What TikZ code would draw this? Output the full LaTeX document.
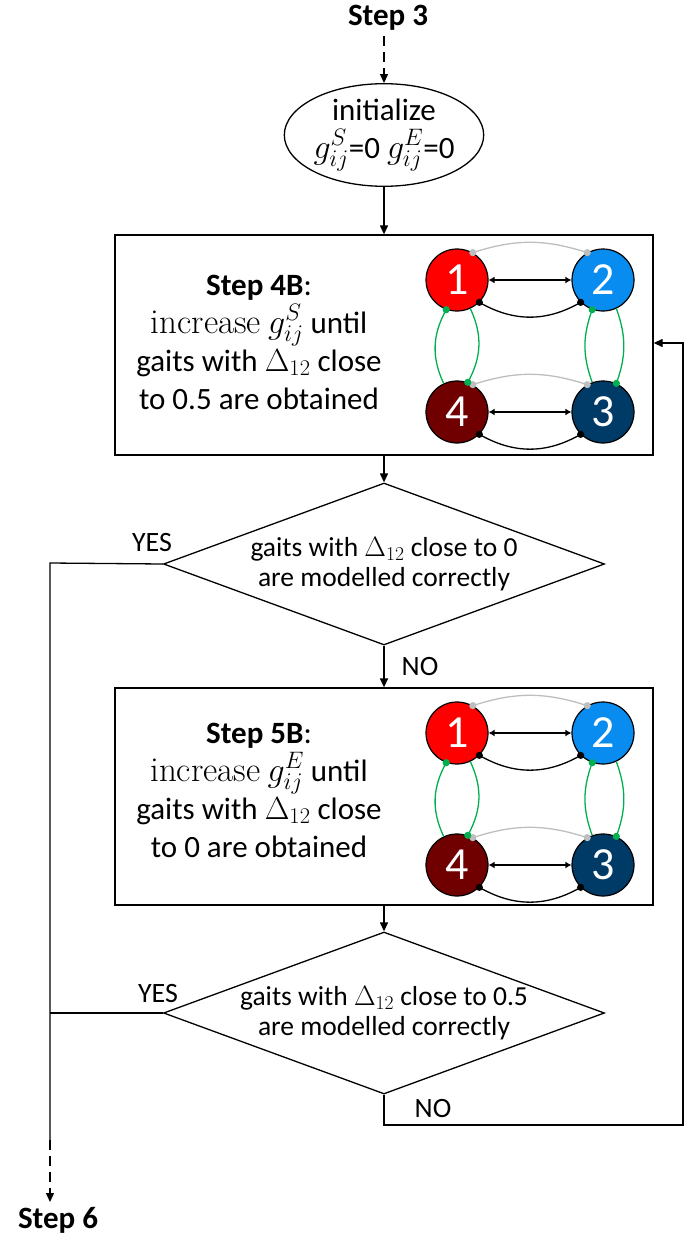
\RequirePackage{fix-cm}
\documentclass[tikz,border=0pt]{standalone}
\usepackage{fontspec}
\setmainfont{Carlito}
\newfontfamily\lmrom{Latin Modern Roman}
\usetikzlibrary{shapes.geometric,arrows.meta}
\definecolor{oscA}{RGB}{255,0,0}
\definecolor{oscB}{RGB}{8,140,240}
\definecolor{oscC}{RGB}{0,58,102}
\definecolor{oscD}{RGB}{112,0,0}
\definecolor{lgray}{RGB}{190,190,190}
\definecolor{cgreen}{RGB}{0,176,80}
\newcommand{\mth}[2]{{\fontsize{#1}{#1}\selectfont$#2$}}
\newcommand{\incr}{{\lmrom\fontsize{35}{38}\selectfont increase}}
\tikzset{
  flow/.style={line width=1.3pt,-{Triangle[length=9pt,width=8pt]}},
  plain/.style={line width=1.3pt},
  dflow/.style={line width=1.3pt,dash pattern=on 10pt off 6pt,-{Triangle[length=9pt,width=8pt]}},
  stepbox/.style={draw,line width=1.3pt,rectangle,minimum width=538pt,inner sep=0pt},
  decision/.style={draw,line width=1.3pt,diamond,aspect=2.72,inner sep=0pt,minimum width=441pt,minimum height=162pt,align=center,font=\fontsize{27.5}{30}\selectfont},
  boxtext/.style={align=center,font=\fontsize{31}{38}\selectfont},
  lbl/.style={font=\fontsize{28}{30}\selectfont},
  osc/.style={circle,draw=black,line width=1.2pt,minimum size=62pt,inner sep=0pt,text=white,font=\fontsize{46}{46}\selectfont},
  netline/.style={line width=1.3pt},
  gline/.style={line width=1.3pt,draw=lgray},
  grline/.style={line width=1.3pt,draw=cgreen},
  twotip/.style={{Latex[length=6pt,width=7pt]}-{Latex[length=6pt,width=7pt]}}
}
\newcommand{\quadnet}[2]{%
  \begin{scope}[shift={(0,#2)}]
    \node[osc,fill=oscA] (#1a) at (457,280) {1};
    \node[osc,fill=oscB] (#1b) at (603,280) {2};
    \node[osc,fill=oscD] (#1d) at (457,412) {4};
    \node[osc,fill=oscC] (#1c) at (603,412) {3};
    % top pair
    \draw[gline] (#1a.60) to[bend left=18] (#1b.120);
    \draw[netline,twotip] (#1a) -- (#1b);
    \draw[netline] (#1a.-45) to[bend right=30] (#1b.-135);
    % bottom pair
    \draw[gline] (#1d.60) to[bend left=18] (#1c.120);
    \draw[netline,twotip] (#1d) -- (#1c);
    \draw[netline] (#1d.-45) to[bend right=30] (#1c.-135);
    % green verticals
    \draw[grline] (#1a.-110) to[bend right=27] (#1d.115);
    \draw[grline] (#1a.-65) to[bend left=27] (#1d.70);
    \draw[grline] (#1b.-110) to[bend right=20] (#1c.110);
    \draw[grline] (#1b.-65) to[bend left=20] (#1c.65);
    % dots
    \fill[lgray] (#1a.60) circle (3.6pt) (#1b.120) circle (3.6pt)
                 (#1d.60) circle (3.6pt) (#1c.120) circle (3.6pt);
    \fill[black] (#1a.-45) circle (3.6pt) (#1b.-135) circle (3.6pt)
                 (#1d.-45) circle (3.6pt) (#1c.-135) circle (3.6pt);
    \fill[cgreen] (#1a.-110) circle (3.6pt) (#1d.70) circle (3.6pt)
                  (#1b.-110) circle (3.6pt) (#1c.65) circle (3.6pt);
  \end{scope}}
\begin{document}
\begin{tikzpicture}[x=1pt,y=-1pt]
\useasboundingbox (0,0) rectangle (686,1247);
% start
\node[font=\fontsize{31}{31}\selectfont\bfseries] (s3) at (388,18) {Step 3};
\node[draw,line width=1.3pt,ellipse,minimum width=197pt,minimum height=97pt,inner sep=0pt,align=center,font=\fontsize{31}{38}\selectfont] (init) at (384,135)
  {initialize\\\mth{34}{g^{S}_{ij}}=0 \mth{34}{g^{E}_{ij}}=0};
\coordinate (s3b) at (384,36);
\draw[dflow] (s3b) -- (init.north);
% box 1
\node[stepbox,minimum height=220pt] (box1) at (384,345) {};
\node[boxtext] (t1) at (259,342) {\textbf{Step 4B}:\\\incr{} \mth{34}{g^{S}_{ij}} until\\gaits with \mth{32}{\Delta_{12}} close\\to 0.5 are obtained};
\quadnet{n}{0}
\draw[flow] (init.south) -- (box1.north);
% decision 1
\node[decision] (d1) at (384,564) {gaits with \mth{28}{\Delta_{12}} close to 0\\are modelled correctly};
\draw[flow] (box1.south) -- (d1.north);
\node[lbl] (yes1) at (152,543) {YES};
% box 2
\node[stepbox,minimum height=217pt] (box2) at (384,796.5) {};
\node[boxtext] (t2) at (259,790) {\textbf{Step 5B}:\\\incr{} \mth{34}{g^{E}_{ij}} until\\gaits with \mth{32}{\Delta_{12}} close\\to 0 are obtained};
\quadnet{m}{453}
\draw[flow] (d1.south) -- (box2.north);
\node[lbl] (no1) at (420,667) {NO};
% decision 2
\node[decision] (d2) at (384,1013) {gaits with \mth{28}{\Delta_{12}} close to 0.5\\are modelled correctly};
\draw[flow] (box2.south) -- (d2.north);
\node[lbl] (yes2) at (158,993) {YES};
\node[lbl] (no2) at (433,1108) {NO};
% loop back
\coordinate (lb1) at (384,1125);
\coordinate (lb2) at (683,1125);
\coordinate (lb3) at (683,343);
\draw[flow] (d2.south) -- (lb1) -- (lb2) -- (lb3) -- (box1.east |- lb3);
% exit
\coordinate (ex1) at (50,563);
\coordinate (ex2) at (50,1013);
\coordinate (ex3) at (50,1140);
\node[font=\fontsize{31}{31}\selectfont\bfseries] (s6) at (58,1220) {Step 6};
\coordinate (s6t) at (50,1202);
\draw[plain] (d1.west) -- (ex1) -- (ex3);
\draw[plain] (d2.west) -- (ex2);
\draw[dflow] (ex3) -- (s6t);
\end{tikzpicture}
\end{document}
